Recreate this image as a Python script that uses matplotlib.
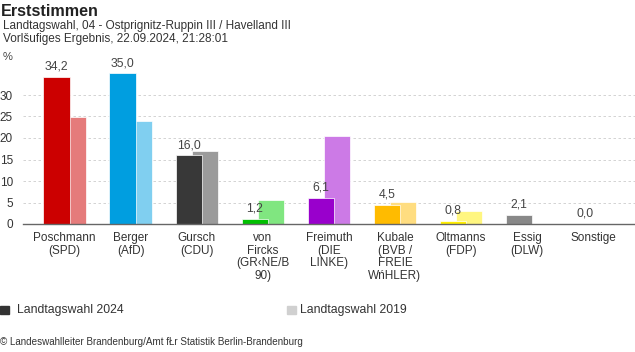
import matplotlib
matplotlib.use("Agg")
import matplotlib.pyplot as plt
import numpy as np
from matplotlib.patches import Rectangle

plt.rcParams['font.family'] = ['Liberation Sans', 'DejaVu Sans']

# candidates and results (percent)
candidates = ['Poschmann\n(SPD)', 'Berger\n(AfD)', 'Gursch\n(CDU)',
              'von\nFircks\n(GR\u2039NE/B\n90)', 'Freimuth\n(DIE\nLINKE)',
              'Kubale\n(BVB /\nFREIE\nW\u0144HLER)', 'Oltmanns\n(FDP)',
              'Essig\n(DLW)', 'Sonstige']
votes_2024 = [34.2, 35.0, 16.0, 1.2, 6.1, 4.5, 0.8, 2.1, 0.0]
votes_2019 = [24.9, 24.0, 17.0, 5.6, 20.5, 5.1, 3.0, None, None]
colors_2024 = ['#cc0000', '#009ee0', '#383838', '#00c000', '#9900cc',
               '#ffbb00', '#ffee00', '#888888', '#888888']
colors_2019 = ['#e57b7b', '#80cff0', '#9b9b9b', '#80e680', '#cc7ae6',
               '#ffdd80', '#fff680', '#c4c4c4', '#c4c4c4']

W, H = 635, 352
fig = plt.figure(figsize=(W / 100, H / 100), dpi=100)

# axes placed in pixel units
ax_left, ax_right = 22.7, 635
ax_bottom, ax_top = 224, 71.35
ax = fig.add_axes([ax_left / W, 1 - ax_bottom / H,
                   (ax_right - ax_left) / W, (ax_bottom - ax_top) / H])

x = np.arange(len(candidates))
width = 0.40
offset = 0.122

v19 = [np.nan if v is None else v for v in votes_2019]
ax.bar(x + offset, v19, width, color=colors_2019, edgecolor='white',
       linewidth=0.5, zorder=2)
ax.bar(x - offset, votes_2024, width, color=colors_2024, edgecolor='white',
       linewidth=0.5, zorder=3)

for xi, v in zip(x, votes_2024):
    ax.annotate(f'{v:.1f}'.replace('.', ','), (xi - offset, v),
                xytext=(0, 3), textcoords='offset points',
                ha='center', va='bottom', fontsize=8.8, color='#444444',
                zorder=4)

ax.set_xlim(-0.636, 8.636)
ax.set_ylim(0, 35.5)
ax.set_yticks([0, 5, 10, 15, 20, 25, 30])
ax.set_xticks(x)
ax.set_xticklabels(candidates, fontsize=8.5, color='#333333', linespacing=1.05)
ax.tick_params(axis='both', length=0, colors='#333333')
ax.tick_params(axis='y', pad=7, labelsize=8.5)
ax.tick_params(axis='x', pad=6)
ax.grid(axis='y', color='#cccccc', linestyle=(0, (3, 3)), linewidth=0.6,
        zorder=0)
for side in ['top', 'right', 'left']:
    ax.spines[side].set_visible(False)
ax.spines['bottom'].set_color('#666666')
ax.spines['bottom'].set_linewidth(1.0)
ax.spines['bottom'].set_zorder(5)

# titles
fig.text(1 / W, 1 - 16 / H, 'Erststimmen', fontsize=11.6, fontweight='bold',
         color='#222222', va='baseline')
fig.text(3 / W, 1 - 29 / H,
         'Landtagswahl, 04 - Ostprignitz-Ruppin III / Havelland III',
         fontsize=8.5, color='#333333', va='baseline')
fig.text(3 / W, 1 - 42 / H, 'Vorl\u0161ufiges Ergebnis, 22.09.2024, 21:28:01',
         fontsize=8.5, color='#333333', va='baseline')
fig.text(3 / W, 1 - 60 / H, '%', fontsize=8, color='#444444',
         va='baseline')

# legend
fig.patches.append(Rectangle((0, 1 - 314 / H), 9 / W, 8 / H,
                             transform=fig.transFigure, color='#333333'))
fig.text(17 / W, 1 - 310 / H, 'Landtagswahl 2024', fontsize=8.8,
         color='#333333', va='center')
fig.patches.append(Rectangle((287 / W, 1 - 314 / H), 9 / W, 8 / H,
                             transform=fig.transFigure, color='#d0d0d0'))
fig.text(300 / W, 1 - 310 / H, 'Landtagswahl 2019', fontsize=8.8,
         color='#333333', va='center')

# footer
fig.text(0, 1 - 342 / H,
         '\u00a9 Landeswahlleiter Brandenburg/Amt f\u0141r Statistik Berlin-Brandenburg',
         fontsize=7.1, color='#333333', va='center')

fig.savefig('out.png', dpi=100)
